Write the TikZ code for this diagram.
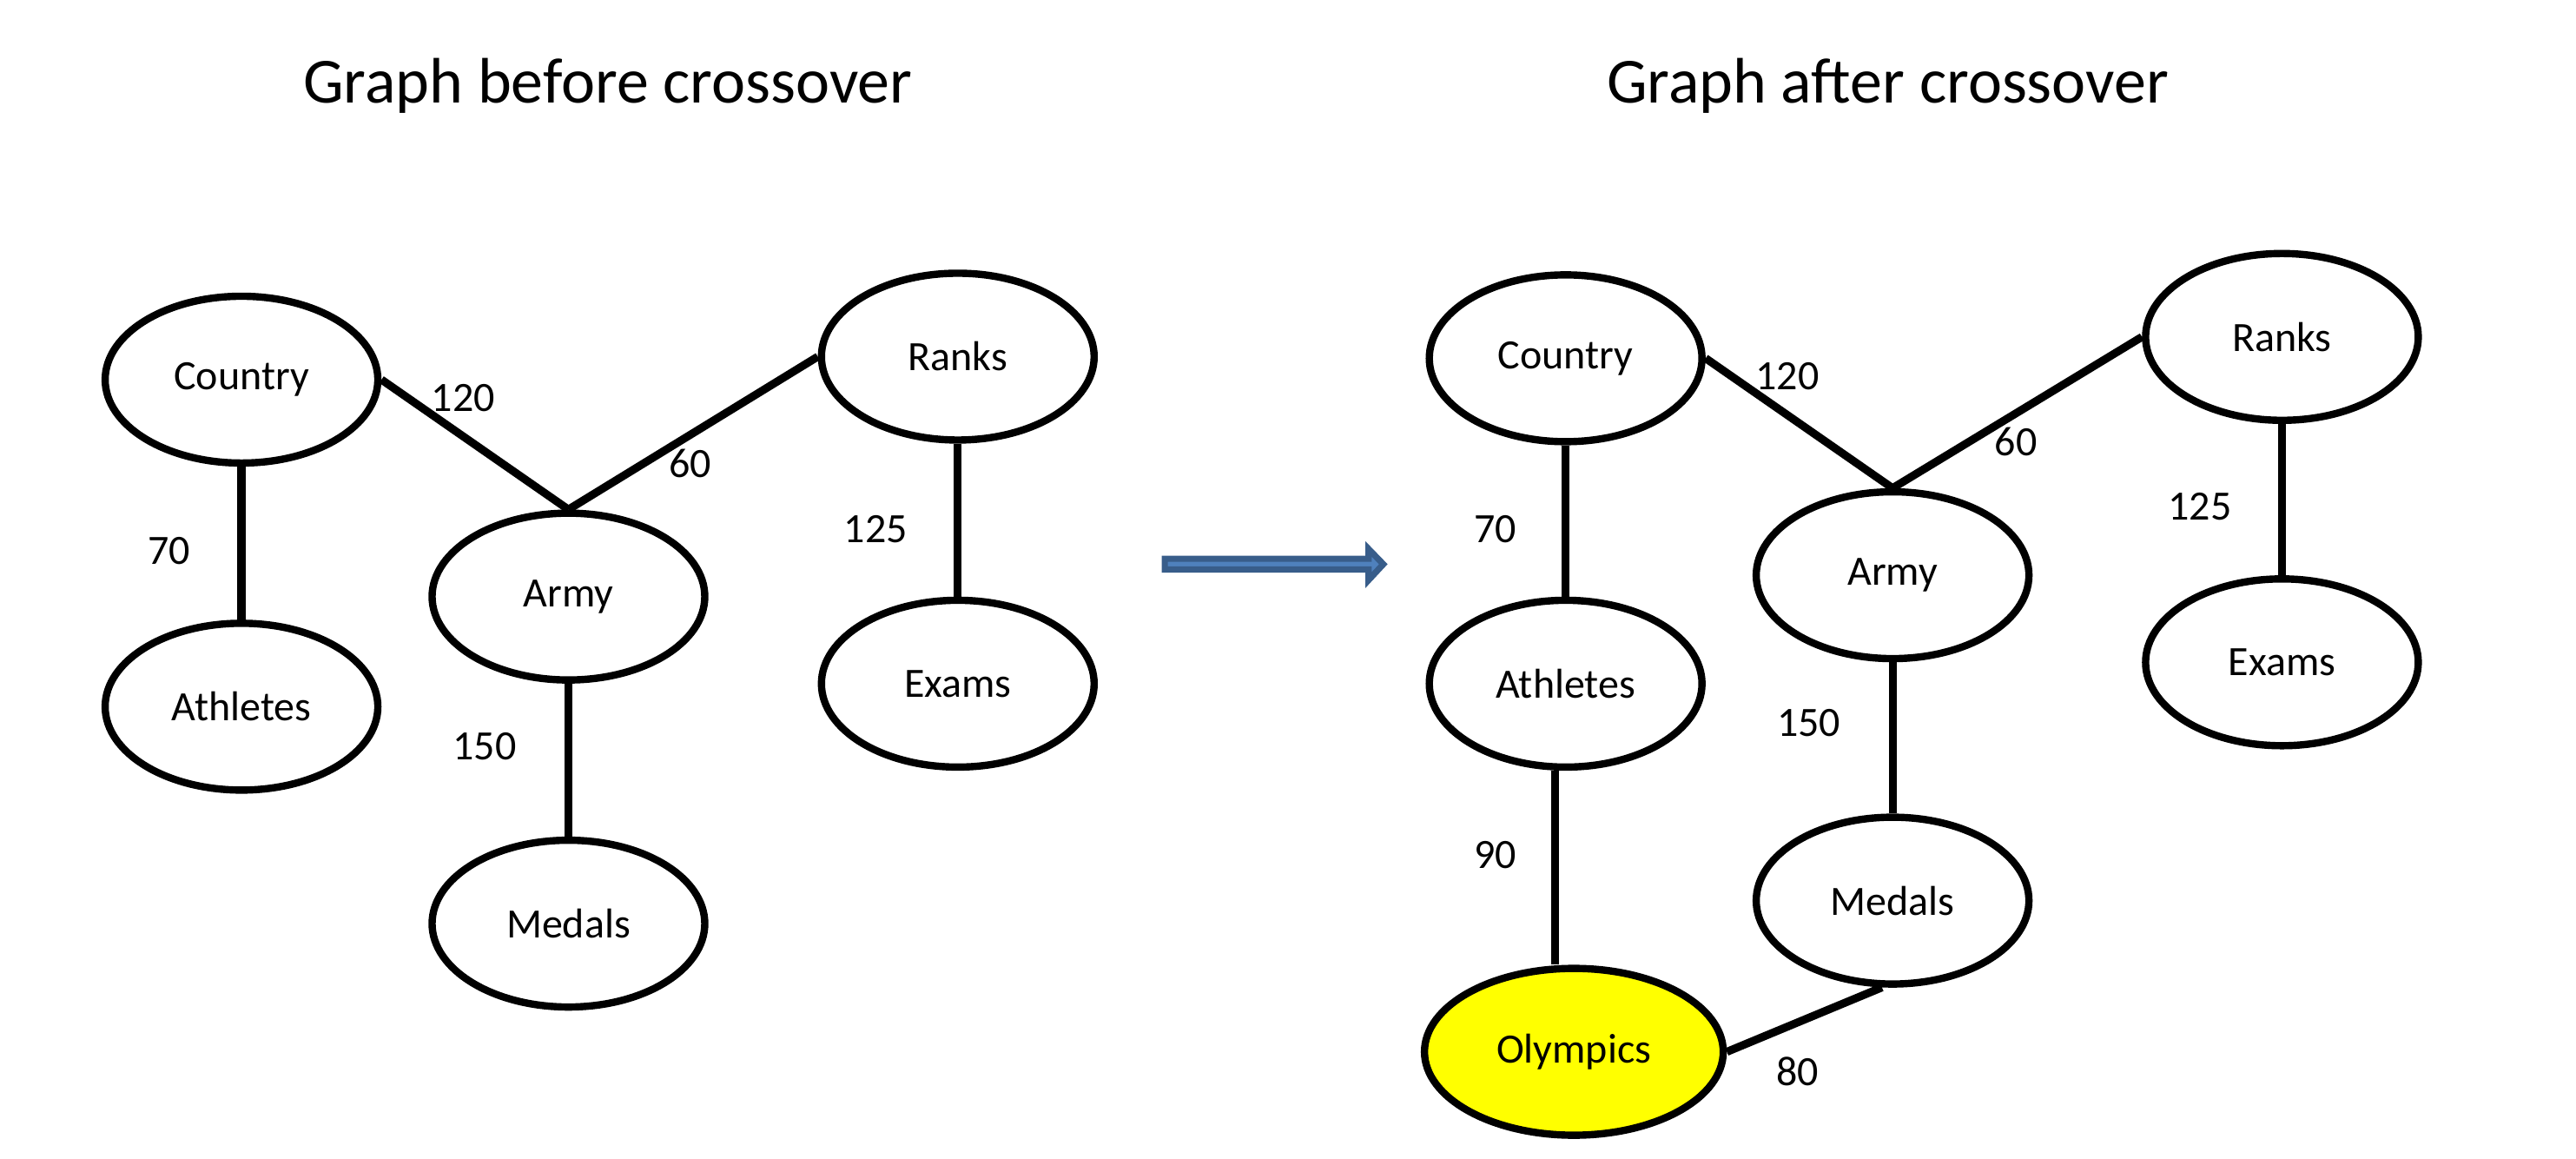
\documentclass[tikz,border=0pt]{standalone}
\usepackage{fontspec}
\setmainfont{Carlito}
\usetikzlibrary{shapes.geometric}

\definecolor{olympicyellow}{RGB}{255,255,0}
\definecolor{arrowline}{RGB}{56,93,138}
\definecolor{arrowfill}{RGB}{79,129,189}

\begin{document}
\begin{tikzpicture}[x=0.9458pt,y=-0.9458pt,
    term/.style={ellipse,draw,line width=4.2pt,minimum width=157pt,minimum height=96pt,inner sep=0pt,font=\fontsize{24}{29}\selectfont},
    wlabel/.style={font=\fontsize{24}{29}\selectfont},
    link/.style={line width=4.6pt},
    heading/.style={font=\fontsize{37}{44}\selectfont}]
            \useasboundingbox (0,0) rectangle (1568,705);

            \node[heading] (titleL) at (370,52) {Graph before crossover};
            \node[heading] (titleR) at (1149,52) {Graph after crossover};

            \node[term] (countryL) at (147,231) {Country};
            \node[term] (athletesL) at (147,430) {Athletes};
            \node[term] (armyL) at (346,363) {Army};
            \node[term] (ranksL) at (583,217) {Ranks};
            \node[term] (examsL) at (583,416) {Exams};
            \node[term] (medalsL) at (346,562) {Medals};

            \draw[link] (countryL.east) -- (armyL.north);
            \draw[link] (armyL.north) -- (ranksL.west);
            \draw[link] (countryL) -- (athletesL);
            \draw[link] (ranksL) -- (examsL);
            \draw[link] (armyL) -- (medalsL);

            \node[wlabel] (w120L) at (282,242) {120};
            \node[wlabel] (w60L) at (420,282) {60};
            \node[wlabel] (w70L) at (103,335) {70};
            \node[wlabel] (w125L) at (533,322) {125};
            \node[wlabel] (w150L) at (295,454) {150};

            \draw[draw=arrowline,fill=arrowfill,line width=3.6pt,line join=miter]
                (709,340) -- (833,340) -- (833,334) -- (842,343.3) -- (833,353)
                -- (833,346.5) -- (709,346.5) -- cycle;

            \node[term] (countryR) at (953,218) {Country};
            \node[term] (athletesR) at (953,416) {Athletes};
            \node[term] (armyR) at (1152,350) {Army};
            \node[term] (ranksR) at (1389,205) {Ranks};
            \node[term] (examsR) at (1389,403) {Exams};
            \node[term] (medalsR) at (1152,548) {Medals};
            \node[term,fill=olympicyellow,minimum width=172pt] (olympicsR) at (958,640) {Olympics};

            \draw[link] (countryR.east) -- (armyR.north);
            \draw[link] (armyR.north) -- (ranksR.west);
            \draw[link] (countryR) -- (athletesR);
            \draw[link] (ranksR) -- (examsR);
            \draw[link] (armyR) -- (medalsR);
            \draw[link] (athletesR.263) -- (athletesR.263 |- olympicsR.north);
            \draw[link] (olympicsR.east) -- (medalsR.263);

            \node[wlabel] (w120R) at (1088,229) {120};
            \node[wlabel] (w60R) at (1227,269) {60};
            \node[wlabel] (w70R) at (910,322) {70};
            \node[wlabel] (w125R) at (1339,308) {125};
            \node[wlabel] (w150R) at (1101,440) {150};
            \node[wlabel] (w90R) at (910,520) {90};
            \node[wlabel] (w80R) at (1094,652) {80};
        \end{tikzpicture}
\end{document}
